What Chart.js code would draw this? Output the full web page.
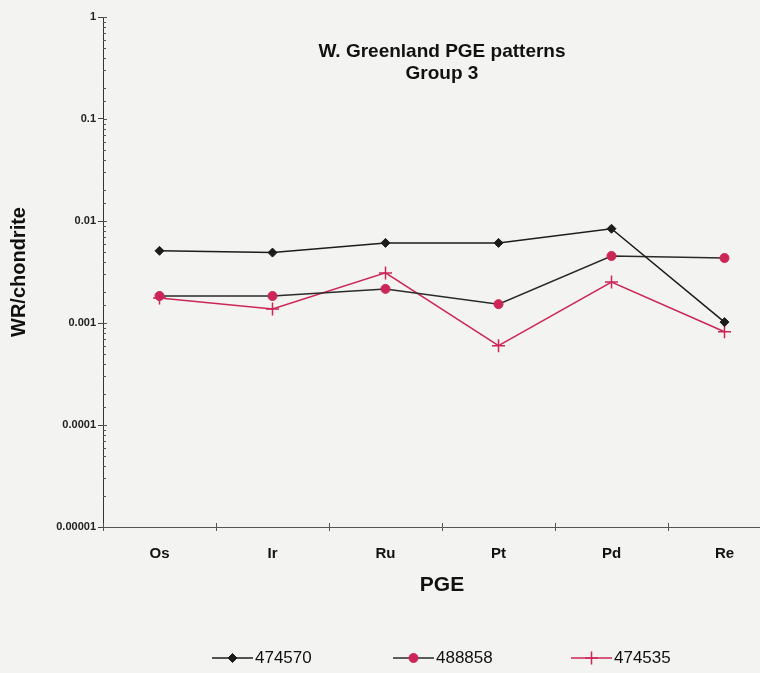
<!DOCTYPE html>
<html>
<head>
<meta charset="utf-8">
<script src="https://cdn.jsdelivr.net/npm/chart.js@4"></script>
<style>
  html, body { margin: 0; padding: 0; background: #f3f3f1; overflow: hidden; }
  #wrap { position: absolute; left: 0; top: 0; width: 790px; height: 673px; }
</style>
</head>
<body>
<div id="wrap"><canvas id="myChart" width="790" height="673"></canvas></div>
<script>
// PGE data normalised to chondrite
const categories = ['Os', 'Ir', 'Ru', 'Pt', 'Pd', 'Re'];
const s474570 = [0.0051, 0.0049, 0.0061, 0.0061, 0.0084, 0.00102];
const s488858 = [0.00184, 0.00184, 0.00216, 0.00153, 0.00454, 0.00434];
const s474535 = [0.00176, 0.00137, 0.0031, 0.0006, 0.00252, 0.00082];
const yTickLabels = ['1', '0.1', '0.01', '0.001', '0.0001', '0.00001'];
const titleLines = ['W. Greenland PGE patterns', 'Group 3'];

const RED = '#cc2657';
const DARK = '#1c1c1c';
const FONT = '"Liberation Sans", Arial, sans-serif';

const isDecade = (v) => {
    const l = Math.log10(v);
    return Math.abs(l - Math.round(l)) < 1e-9;
};

// inside tick marks (Excel style) for both axes
const innerTicks = {
    id: 'innerTicks',
    afterDraw(chart) {
        const ctx = chart.ctx;
        const y = chart.scales.y;
        const x = chart.scales.x;
        ctx.save();
        ctx.lineWidth = 1;
        ctx.strokeStyle = '#555';
        ctx.beginPath();
        y.ticks.forEach((t) => {
            const py = Math.round(y.getPixelForValue(t.value)) + 0.5;
            const len = isDecade(t.value) ? 4 : 3;
            ctx.moveTo(y.right, py);
            ctx.lineTo(y.right + len, py);
        });
        const step = x.getPixelForTick(1) - x.getPixelForTick(0);
        for (let i = 0; i <= categories.length; i++) {
            const px = Math.round(x.getPixelForTick(0) + (i - 0.5) * step) + 0.5;
            ctx.moveTo(px, x.top);
            ctx.lineTo(px, x.top - 4);
        }
        ctx.stroke();
        ctx.restore();
    }
};

// title inside the plot area + legend with line/marker samples
const extras = {
    id: 'extras',
    afterDraw(chart) {
        const ctx = chart.ctx;
        const area = chart.chartArea;
        ctx.save();
        ctx.fillStyle = '#111';
        ctx.textAlign = 'center';
        ctx.textBaseline = 'middle';
        ctx.font = 'bold 19px ' + FONT;
        const cx = (area.left + area.right) / 2;
        ctx.fillText(titleLines[0], cx, 52);
        ctx.fillText(titleLines[1], cx, 74);

        // legend
        const xs = [212, 393, 571];
        const ly = 658;
        chart.data.datasets.forEach((ds, i) => {
            const x0 = xs[i];
            ctx.strokeStyle = ds.borderColor;
            ctx.lineWidth = 1.5;
            ctx.beginPath();
            ctx.moveTo(x0, ly);
            ctx.lineTo(x0 + 41, ly);
            ctx.stroke();
            ctx.fillStyle = ds.pointBackgroundColor;
            ctx.strokeStyle = ds.pointBorderColor;
            ctx.lineWidth = ds.pointBorderWidth;
            Chart.helpers.drawPoint(ctx, {
                pointStyle: ds.pointStyle,
                radius: ds.pointRadius,
                borderWidth: ds.pointBorderWidth
            }, x0 + 20.5, ly);
            ctx.fillStyle = '#111';
            ctx.textAlign = 'left';
            ctx.font = '17px ' + FONT;
            ctx.fillText(ds.label, x0 + 43, ly);
        });
        ctx.restore();
    }
};

const ctx = document.getElementById('myChart').getContext('2d');
new Chart(ctx, {
    type: 'line',
    data: {
        labels: categories,
        datasets: [
            {
                label: '474570',
                data: s474570,
                borderColor: DARK,
                borderWidth: 1.5,
                pointStyle: 'rectRot',
                pointRadius: 4.5,
                pointBackgroundColor: DARK,
                pointBorderColor: DARK,
                pointBorderWidth: 1
            },
            {
                label: '488858',
                data: s488858,
                borderColor: '#2a2a2a',
                borderWidth: 1.5,
                pointStyle: 'circle',
                pointRadius: 4.5,
                pointBackgroundColor: RED,
                pointBorderColor: RED,
                pointBorderWidth: 1
            },
            {
                label: '474535',
                data: s474535,
                borderColor: RED,
                borderWidth: 1.5,
                pointStyle: 'cross',
                pointRadius: 6.5,
                pointBackgroundColor: RED,
                pointBorderColor: RED,
                pointBorderWidth: 1.5
            }
        ]
    },
    options: {
        responsive: false,
        animation: false,
        devicePixelRatio: 1,
        layout: { padding: { left: 0, top: 17, right: 9, bottom: 71 } },
        plugins: {
            legend: { display: false },
            tooltip: { enabled: false }
        },
        scales: {
            x: {
                type: 'category',
                offset: true,
                grid: {
                    offset: true,
                    drawOnChartArea: false,
                    drawTicks: true,
                    tickLength: 4,
                    color: '#555'
                },
                border: { color: '#555', width: 1 },
                ticks: {
                    color: '#111',
                    padding: 14,
                    font: { family: FONT, size: 15, weight: 'bold' }
                },
                title: {
                    display: true,
                    text: 'PGE',
                    color: '#111',
                    padding: { top: 0, bottom: 4 },
                    font: { family: FONT, size: 21, weight: 'bold' }
                },
                afterFit(scale) { scale.height = 75; }
            },
            y: {
                type: 'logarithmic',
                min: 0.00001,
                max: 1,
                grid: {
                    drawOnChartArea: false,
                    drawTicks: true,
                    tickLength: 5,
                    color: (c) => (c.tick && isDecade(c.tick.value) ? '#444' : 'rgba(0,0,0,0)')
                },
                border: { color: '#333', width: 1 },
                ticks: {
                    autoSkip: false,
                    color: '#222',
                    padding: 2,
                    font: { family: FONT, size: 11, weight: 'bold' },
                    callback: (v) => (isDecade(v) ? yTickLabels[-Math.round(Math.log10(v))] : '')
                },
                title: {
                    display: true,
                    text: 'WR/chondrite',
                    color: '#111',
                    padding: { top: 7, bottom: 0 },
                    font: { family: FONT, size: 20, weight: 'bold' }
                },
                afterFit(scale) { scale.width = 103; }
            }
        }
    },
    plugins: [innerTicks, extras]
});
</script>
</body>
</html>
